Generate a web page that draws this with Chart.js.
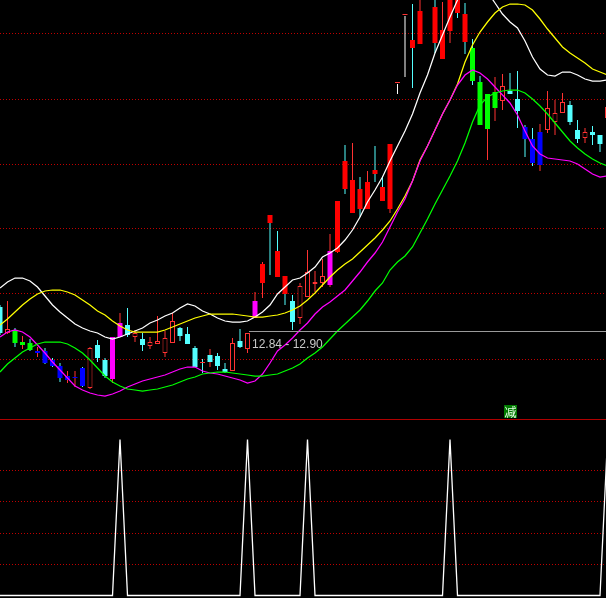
<!DOCTYPE html>
<html><head><meta charset="utf-8">
<script src="https://cdn.jsdelivr.net/npm/chart.js@4.4.0/dist/chart.umd.min.js"></script>
<style>
html,body{margin:0;padding:0;background:#000;overflow:hidden;}
#wrap{position:relative;width:606px;height:598px;background:#000;}
canvas{display:block;position:absolute;left:0;}
#top{top:0;} #bot{top:419px;}
</style></head><body>
<div id="wrap"><canvas id="top" width="606" height="419"></canvas><canvas id="bot" width="606" height="179"></canvas></div>
<script>
// ---- candle data (price) ----
const open = [13.11,12.85,12.88,12.73,12.75,12.65,12.67,12.58,12.52,12.38,
12.40,12.50,12.30,12.73,12.58,12.39,12.81,12.93,12.81,12.79,
12.72,12.74,12.65,12.75,12.90,12.84,12.70,12.56,12.56,12.62,
12.49,12.47,12.77,12.69,13.00,13.35,14.03,13.67,13.42,13.17,
13.00,13.21,13.34,13.35,13.33,13.66,14.57,14.05,14.29,14.09,
14.48,14.31,14.09,15.35,16.03,15.78,15.74,16.25,16.11,15.59,
15.87,16.24,16.04,15.70,15.36,14.89,15.10,15.17,15.27,15.19,
14.91,14.79,14.53,14.88,14.96,15.05,15.13,14.88,14.80,14.86,
14.83,15.00];
const high = [13.13,13.17,12.90,12.82,12.79,12.71,12.70,12.60,12.55,12.47,
12.47,12.51,12.71,12.78,12.60,12.81,13.05,13.10,12.88,12.85,
12.81,13.02,12.87,13.05,12.91,12.91,12.72,12.59,12.69,12.65,
12.55,12.80,12.89,12.85,13.26,13.56,14.03,13.87,13.42,13.23,
13.35,13.68,13.47,13.59,13.84,14.17,14.73,14.75,14.41,14.47,
14.72,14.42,14.74,15.35,16.03,16.14,16.23,16.45,16.21,16.16,
16.26,16.28,16.15,15.79,15.42,15.24,15.41,15.44,15.45,15.47,
14.93,14.90,14.94,15.27,15.18,15.25,15.17,14.98,14.90,14.92,
14.83,15.18];
const low = [12.83,12.84,12.71,12.69,12.67,12.61,12.54,12.51,12.36,12.35,
12.31,12.31,12.29,12.56,12.40,12.35,12.81,12.81,12.76,12.67,
12.69,12.74,12.61,12.75,12.77,12.74,12.51,12.45,12.51,12.48,
12.45,12.47,12.70,12.65,13.00,13.20,13.43,13.41,13.13,12.88,
12.94,13.21,13.26,13.31,13.31,13.65,14.24,14.05,14.01,14.09,
14.36,14.17,14.05,15.35,16.03,15.30,15.74,16.20,15.65,15.59,
15.75,16.00,15.64,15.33,14.93,14.58,14.97,15.08,15.24,14.90,
14.61,14.52,14.47,14.85,14.83,15.05,14.93,14.75,14.75,14.73,
14.66,14.98];
const close = [12.85,12.89,12.75,12.76,12.68,12.67,12.55,12.52,12.40,12.42,
12.41,12.32,12.70,12.60,12.42,12.81,12.95,12.83,12.85,12.73,
12.76,12.77,12.80,12.97,12.82,12.74,12.51,12.55,12.63,12.52,
12.46,12.75,12.71,12.85,13.17,13.54,13.95,13.41,13.24,12.96,
13.32,13.46,13.36,13.42,13.67,14.17,14.29,14.38,14.09,14.36,
14.44,14.17,14.74,15.35,16.03,15.70,16.07,16.38,15.75,15.88,
16.23,16.05,15.76,15.37,14.93,15.24,15.26,15.32,15.24,15.07,
14.79,14.55,14.86,15.10,15.05,15.16,14.96,14.79,14.86,14.83,
14.74,15.11];
// indicator state per bar: u=plain up, d=plain down, R/M/G/B = highlighted states, L = one-price bar
const barState = ('duGGGBBBBB'+'BBuddMMdud'+'uuuudddudd'+'duduMRRRRd'+'uuuuMRRRRR'+
                  'RRRLLRRRRR'+'RRRGGGGudd'+'BBBuuuddud'+'du').split('');
// extra white stick segments
const stickBars = [53, 54];
const stickTop = [15.34, 16.02];
const stickBottom = [15.24, 15.41];

// ---- moving-average style lines ----
const maWhite = [13.30,13.36,13.40,13.40,13.37,13.31,13.22,13.13,13.06,13.00,
12.94,12.90,12.87,12.85,12.81,12.79,12.81,12.84,12.87,12.90,
12.95,12.98,13.02,13.05,13.10,13.14,13.12,13.07,13.04,13.00,
12.97,12.96,12.96,12.97,13.01,13.06,13.13,13.24,13.31,13.38,
13.40,13.45,13.51,13.61,13.65,13.70,13.78,13.88,14.01,14.16,
14.28,14.41,14.57,14.72,14.87,15.04,15.25,15.43,15.65,15.83,
16.01,16.18,16.30,16.38,16.36,16.26,16.15,16.04,15.96,15.90,
15.77,15.61,15.49,15.43,15.42,15.46,15.46,15.43,15.39,15.37,
15.37,15.38];
const maYellow = [12.93,12.99,13.06,13.13,13.19,13.24,13.27,13.28,13.28,13.26,
13.23,13.18,13.13,13.07,13.03,12.97,12.92,12.88,12.86,12.86,
12.86,12.86,12.88,12.91,12.94,12.97,13.00,13.02,13.04,13.04,
13.04,13.04,13.03,13.02,13.01,13.01,13.02,13.03,13.05,13.08,
13.12,13.18,13.25,13.33,13.41,13.48,13.54,13.59,13.66,13.73,
13.80,13.88,13.97,14.09,14.22,14.37,14.58,14.72,14.88,15.04,
15.18,15.34,15.56,15.73,15.86,15.96,16.05,16.11,16.14,16.14,
16.13,16.08,15.99,15.89,15.80,15.71,15.65,15.60,15.55,15.49,
15.46,15.43];
const maMagenta = [12.81,12.86,12.88,12.86,12.81,12.73,12.65,12.56,12.48,12.40,
12.32,12.28,12.25,12.23,12.22,12.24,12.27,12.31,12.34,12.37,
12.39,12.41,12.43,12.46,12.49,12.51,12.51,12.47,12.45,12.44,
12.42,12.40,12.38,12.35,12.37,12.44,12.55,12.67,12.73,12.80,
12.88,12.95,13.04,13.11,13.16,13.22,13.28,13.37,13.46,13.56,
13.65,13.76,13.91,14.06,14.19,14.37,14.57,14.72,14.88,15.04,
15.18,15.33,15.43,15.48,15.45,15.39,15.31,15.23,15.15,15.03,
14.87,14.72,14.64,14.60,14.59,14.58,14.57,14.54,14.49,14.44,
14.41,14.42];
const maGreen = [12.46,12.54,12.60,12.66,12.70,12.74,12.76,12.76,12.76,12.74,
12.70,12.65,12.58,12.50,12.42,12.36,12.32,12.29,12.28,12.27,
12.28,12.29,12.31,12.33,12.36,12.39,12.41,12.44,12.45,12.46,
12.46,12.45,12.44,12.43,12.42,12.42,12.43,12.44,12.47,12.50,
12.54,12.60,12.65,12.71,12.79,12.87,12.94,13.01,13.08,13.17,
13.27,13.35,13.48,13.56,13.62,13.71,13.85,13.99,14.14,14.28,
14.42,14.57,14.75,14.96,15.13,15.21,15.25,15.27,15.28,15.28,
15.25,15.19,15.12,15.04,14.95,14.86,14.77,14.70,14.64,14.59,
14.55,14.52];

// ---- lower indicator ----
const signal = [0,0,0,0,0,0,0,0,0,0,
0,0,0,0,0,0,100,0,0,0,
0,0,0,0,0,0,0,0,0,0,
0,0,0,100,0,0,0,0,0,0,
0,100,0,0,0,0,0,0,0,0,
0,0,0,0,0,0,0,0,0,0,
100,0,0,0,0,0,0,0,0,0,
0,0,0,0,0,0,0,0,0,0,
0,100];

// ---- grid / labels ----
const priceGrid = [15.85, 15.19, 14.54, 13.89, 13.24, 12.59];
const signalGrid = [20, 40, 60, 80];
const priceLineValue = 12.87;
const priceLineFromBar = 33;
const priceLineLabel = '12.84 - 12.90';
const markBars = [67];
const markTexts = ['减'];

// ---------------------------------------------------
const idx = open.map((_, i) => i);
const UP = '#ff3232', DOWN = '#54ffff';
const fillOf = {u:'#000000', d:DOWN, R:'#ff0000', M:'#ff00ff', G:'#00ff00', B:'#0000ff', L:UP};
const edgeOf = {u:UP, d:DOWN, R:'#ff0000', M:'#ff00ff', G:'#00ff00', B:'#0000ff', L:UP};
const XMAX = 80.8;

function dashedGrid(chart, values, color) {
  const ctx = chart.ctx, y = chart.scales.y, a = chart.chartArea;
  ctx.save();
  ctx.strokeStyle = color; ctx.lineWidth = 1; ctx.setLineDash([1, 2]);
  values.forEach(v => {
    const py = Math.floor(y.getPixelForValue(v)) + 0.5;
    ctx.beginPath(); ctx.moveTo(a.left, py); ctx.lineTo(a.right, py); ctx.stroke();
  });
  ctx.restore();
}

const topPlugin = {
  id: 'topDecor',
  beforeDatasetsDraw(chart) { dashedGrid(chart, priceGrid, '#c00000'); },
  afterDatasetsDraw(chart) {
    const ctx = chart.ctx, x = chart.scales.x, y = chart.scales.y, a = chart.chartArea;
    ctx.save();
    const py = Math.floor(y.getPixelForValue(priceLineValue)) + 0.5;
    const px = x.getPixelForValue(priceLineFromBar) + 1.5;
    ctx.strokeStyle = '#9a9a9a'; ctx.lineWidth = 1;
    ctx.beginPath(); ctx.moveTo(px, py); ctx.lineTo(a.right, py); ctx.stroke();
    ctx.fillStyle = '#c8c8c8';
    ctx.font = '12px "Liberation Sans", Arial, sans-serif';
    ctx.textBaseline = 'alphabetic'; ctx.textAlign = 'left';
    ctx.fillText(priceLineLabel, px + 3, py + 16);
    markBars.forEach((b, k) => {
      const bx = Math.round(x.getPixelForValue(b)) + 1;
      const by = a.bottom - 14;
      ctx.fillStyle = '#007a00';
      ctx.fillRect(bx, by, 13, 13);
      ctx.fillStyle = '#e6ffe6';
      ctx.font = '12px "Noto Sans CJK SC", sans-serif';
      ctx.textAlign = 'center'; ctx.textBaseline = 'middle';
      ctx.fillText(markTexts[k], bx + 6.5, by + 7);
    });
    ctx.restore();
  }
};

const botPlugin = {
  id: 'botDecor',
  beforeDatasetsDraw(chart) {
    dashedGrid(chart, signalGrid, '#c00000');
    const ctx = chart.ctx;
    ctx.save();
    ctx.strokeStyle = '#b00000'; ctx.lineWidth = 1;
    ctx.beginPath(); ctx.moveTo(0, 0.5); ctx.lineTo(chart.width, 0.5); ctx.stroke();
    ctx.restore();
  }
};

const lineDs = (data, color) => ({
  type: 'line', data: idx.map(i => ({x: i, y: data[i]})), borderColor: color,
  borderWidth: 1.25, pointRadius: 0, tension: 0, order: 0, fill: false
});

new Chart(document.getElementById('top'), {
  type: 'bar',
  data: {
    datasets: [
      lineDs(maGreen, '#00ff00'),
      lineDs(maMagenta, '#ff00ff'),
      lineDs(maYellow, '#ffff00'),
      lineDs(maWhite, '#ffffff'),
      {
        type: 'bar', order: 1, grouped: false, barThickness: 5, minBarLength: 1, inflateAmount: 0,
        data: idx.map(i => ({x: i, y: [open[i], close[i]]})),
        backgroundColor: barState.map(s => fillOf[s]),
        borderColor: barState.map(s => edgeOf[s]),
        borderWidth: barState.map(s => s === 'u' ? 1 : 0),
        borderSkipped: false
      },
      {
        type: 'bar', order: 2, grouped: false, barThickness: 1, inflateAmount: 0,
        data: stickBars.map((b, k) => ({x: b, y: [stickBottom[k], stickTop[k]]})),
        backgroundColor: '#ffffff', borderWidth: 0
      },
      {
        type: 'bar', order: 3, grouped: false, barThickness: 1, inflateAmount: 0,
        data: idx.map(i => ({x: i, y: [low[i], high[i]]})),
        backgroundColor: idx.map(i => barState[i] === 'L' ? 'rgba(0,0,0,0)' : (close[i] >= open[i] ? UP : DOWN)),
        borderWidth: 0
      }
    ]
  },
  options: {
    responsive: false, animation: false, devicePixelRatio: 1,
    layout: {padding: 0},
    plugins: {legend: {display: false}, tooltip: {enabled: false}},
    scales: {
      x: {type: 'linear', min: 0, max: XMAX, display: false, offset: false},
      y: {type: 'linear', min: 11.99, max: 16.18, display: false}
    }
  },
  plugins: [topPlugin]
});

new Chart(document.getElementById('bot'), {
  type: 'line',
  data: {
    datasets: [{
      data: idx.map(i => ({x: i, y: signal[i]})), borderColor: '#ffffff',
      borderWidth: 1.3, pointRadius: 0, tension: 0, fill: false
    }]
  },
  options: {
    responsive: false, animation: false, devicePixelRatio: 1,
    layout: {padding: 0},
    plugins: {legend: {display: false}, tooltip: {enabled: false}},
    scales: {
      x: {type: 'linear', min: 0, max: XMAX, display: false, offset: false},
      y: {type: 'linear', min: -1.6, max: 113.14, display: false}
    }
  },
  plugins: [botPlugin]
});
</script>
</body></html>
